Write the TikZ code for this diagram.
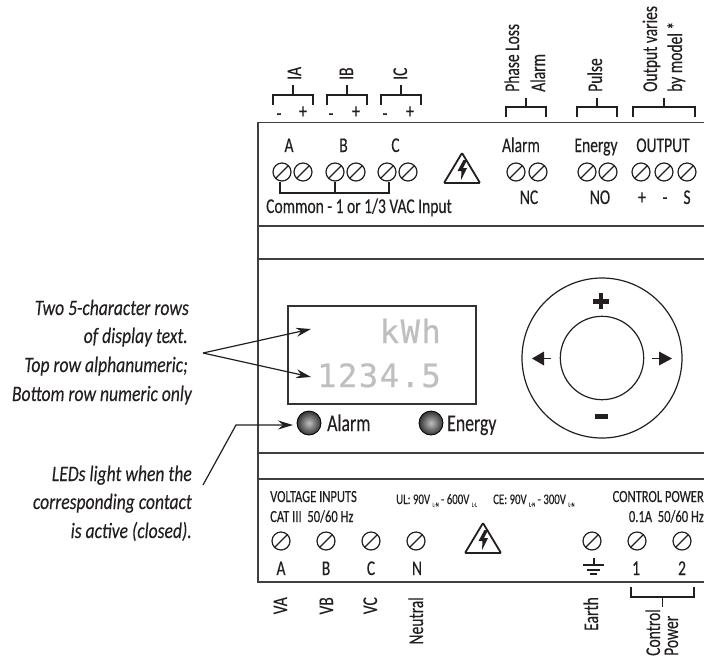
\documentclass[tikz,border=0pt]{standalone}
\usepackage{fontspec}
\usetikzlibrary{calc,arrows.meta}
\newfontfamily\condfont[FakeStretch=0.74,FakeBold=0.25]{Carlito}
\newfontfamily\notefont[FakeStretch=0.8,FakeBold=0.2]{Carlito}
\newfontfamily\lcdfont[LetterSpace=5,FakeBold=0.6]{DejaVu Sans Mono}
\definecolor{inkdark}{HTML}{231F20}
\def\sublabel#1{\,{\fontsize{6}{6}\selectfont\raisebox{-2.5pt}{#1}}\,}
\def\screw(#1,#2){\draw[termline] (#1,#2) circle (9); \draw[termline] ($(#1,#2)+(-6.4,6.4)$) -- ($(#1,#2)+(6.4,-6.4)$);}
\def\bracket(#1,#2,#3,#4,#5){\draw[termline] (#1,#4) -- (#1,#3) -- (#2,#3) -- (#2,#4); \draw[termline] ({(#1+#2)/2},#3) -- ({(#1+#2)/2},#5);}
\def\hazard(#1,#2){\begin{scope}[shift={(#1,#2)}]
	\draw[line width=1.8pt, rounded corners=1pt, color=inkdark] (0,0) -- (-18,30) -- (18,30) -- cycle;
	\fill[inkdark] (1.5,7) -- (-4.5,18) -- (-0.5,18) -- (-1,27) -- (5,15) -- (1,15) -- (5,7) -- cycle;
\end{scope}}
\def\led(#1,#2){\draw[line width=0.8pt, color=black, inner color=black!25, outer color=black!80] (#1,#2) circle (12);}
\tikzset{
	termline/.style={line width=1.2pt, color=inkdark},
	caseline/.style={line width=1.6pt, color=black!75},
	lbl/.style={inner sep=0pt, anchor=base, color=inkdark, font=\condfont\fontsize{21}{21}\selectfont},
	smalllbl/.style={lbl, font=\condfont\fontsize{17}{17}\selectfont},
	ratinglbl/.style={lbl, anchor=base west, font=\condfont\fontsize{14.6}{14.6}\selectfont},
	uplbl/.style={lbl, rotate=90, anchor=base west},
	downlbl/.style={lbl, rotate=90, anchor=base east},
	notelbl/.style={lbl, anchor=base east, font=\notefont\itshape\fontsize{22}{22}\selectfont},
	ledlbl/.style={lbl, anchor=base west, font=\condfont\fontsize{24}{24}\selectfont},
	lcdlbl/.style={inner sep=0pt, anchor=base east, color=black!25, font=\lcdfont\fontsize{32}{32}\selectfont},
	calloutline/.style={line width=1.2pt, color=inkdark, -{Stealth[length=15pt,width=9pt,inset=5pt]}}
}
\begin{document}
\begin{tikzpicture}[x=1pt,y=-1pt]
	\useasboundingbox (0,0) rectangle (704,657);
	%%%%% CASE %%%%%
	\draw[caseline] (704,122.5) -- (258,122.5) -- (258,582) -- (704,582);
	\draw[caseline] (258,226) -- (704,226);
	\draw[caseline] (258,259) -- (704,259);
	\draw[caseline] (258,453) -- (704,453);
	\draw[caseline] (258,479) -- (704,479);

	%%%%% TOP TERMINALS %%%%%
	\bracket(273,313,95,105,85);
	\bracket(327,367,95,105,85);
	\bracket(381,421,95,105,85);
	\node[uplbl] (iA) at (301,80) {IA};
	\node[uplbl] (iB) at (353,80) {IB};
	\node[uplbl] (iC) at (407,80) {IC};
	\node[lbl] (iAminus) at (279,120) {-};
	\node[lbl] (iAplus) at (303,118) {+};
	\node[lbl] (iBminus) at (331,120) {-};
	\node[lbl] (iBplus) at (356,118) {+};
	\node[lbl] (iCminus) at (385,120) {-};
	\node[lbl] (iCplus) at (410,118) {+};

	\bracket(506,546,107,117,98);
	\bracket(577,617,107,117,98);
	\bracket(633,695,107,117,98);
	\node[uplbl] (phaseLoss) at (519,92) {Phase Loss};
	\node[uplbl] (phaseAlarm) at (545,92) {Alarm};
	\node[uplbl] (pulse) at (602,92) {Pulse};
	\node[uplbl] (outVaries) at (657,92) {Output varies};
	\node[uplbl] (byModel) at (682,92) {by model *};

	\node[lbl] (termA) at (289,152) {A};
	\node[lbl] (termB) at (343.5,152) {B};
	\node[lbl] (termC) at (395.5,152) {C};
	\node[lbl] (termAlarm) at (521,152) {Alarm};
	\node[lbl] (termEnergy) at (596,152) {Energy};
	\node[lbl] (termOutput) at (663,152) {OUTPUT};

	\screw(282,172); \screw(303,172);
	\screw(335,172); \screw(356,172);
	\screw(387,172); \screw(408,172);
	\screw(516,172); \screw(538,172);
	\screw(587,172); \screw(608,172);
	\screw(641,172); \screw(664,172); \screw(687,172);

	\draw[termline] (280,182) -- (280,193) -- (389,193) -- (389,182);
	\draw[termline] (335,182) -- (335,193);
	\node[lbl, anchor=base west] (common) at (266,213) {Common - 1 or 1/3 VAC Input};
	\hazard(462,153);

	\node[lbl] (termNC) at (529,204) {NC};
	\node[lbl] (termNO) at (600,204) {NO};
	\node[lbl] (outPlus) at (642,204) {+};
	\node[lbl] (outMinus) at (665,204) {-};
	\node[lbl] (outS) at (687,204) {S};

	%%%%% DISPLAY %%%%%
	\draw[line width=1.5pt, color=black!80] (288,306) rectangle (476,404);
	\node[lcdlbl] (lcdTop) at (441,343) {kWh};
	\node[lcdlbl] (lcdBottom) at (441,387) {1234.5};

	\led(309,423);
	\led(431,423);
	\node[ledlbl] (ledAlarm) at (327,431) {Alarm};
	\node[ledlbl] (ledEnergy) at (447,431) {Energy};

	%%%%% DIAL %%%%%
	\draw[termline] (602,358) circle (80);
	\draw[termline] (602,358) circle (41.7);
	\fill[inkdark] (593,299) rectangle (609,303.5);
	\fill[inkdark] (598.7,293) rectangle (603.3,309);
	\fill[inkdark] (594.5,414) rectangle (608,418.5);
	\fill[inkdark] (532,358.5) -- (544,351.5) -- (544,365.5) -- cycle;
	\draw[termline] (544,358.5) -- (551,358.5);
	\fill[inkdark] (672,358.5) -- (659,351.5) -- (659,365.5) -- cycle;
	\draw[termline] (652,358.5) -- (659,358.5);

	%%%%% NOTES %%%%%
	\node[notelbl] (noteOne) at (189,315) {Two 5-character rows};
	\node[notelbl] (noteTwo) at (188,343) {of display text.};
	\node[notelbl] (noteThree) at (188,372) {Top row alphanumeric;};
	\node[notelbl] (noteFour) at (192,401) {Bottom row numeric only};
	\coordinate (splitPoint) at (203,353);
	\coordinate (rowTop) at (311,329);
	\coordinate (rowBottom) at (311,377);
	\draw[calloutline] (splitPoint) -- (rowTop);
	\draw[calloutline] (splitPoint) -- (rowBottom);

	\node[notelbl] (ledNoteOne) at (192,481) {LEDs light when the};
	\node[notelbl] (ledNoteTwo) at (192,509) {corresponding contact};
	\node[notelbl] (ledNoteThree) at (192,538) {is active (closed).};
	\coordinate (ledFoot) at (203,485);
	\coordinate (ledBend) at (236,425);
	\coordinate (ledTip) at (293,425);
	\draw[calloutline] (ledFoot) -- (ledBend) -- (ledTip);

	%%%%% BOTTOM TERMINALS %%%%%
	\node[smalllbl, anchor=base west] (voltInputs) at (270,502) {VOLTAGE INPUTS};
	\node[smalllbl, anchor=base west] (catThree) at (270,522) {CAT III\ \ 50/60 Hz};
	\node[ratinglbl] (ratingUL) at (396,504) {UL: 90V\sublabel{L-N}- 600V\sublabel{L-L}};
	\node[ratinglbl] (ratingCE) at (493,504) {CE: 90V\sublabel{L-N}- 300V\sublabel{L-N}};
	\node[smalllbl, anchor=base east] (ctrlPower) at (704,502) {CONTROL POWER};
	\node[smalllbl, anchor=base east] (ctrlRating) at (704,522) {0.1A\ \ 50/60 Hz};

	\screw(281,541); \screw(326,541); \screw(371,541); \screw(416,541);
	\screw(592,541); \screw(637,541); \screw(682,541);
	\hazard(483,523);

	\node[lbl] (voltA) at (281,575) {A};
	\node[lbl] (voltB) at (326,575) {B};
	\node[lbl] (voltC) at (371,575) {C};
	\node[lbl] (voltN) at (417,575) {N};
	\node[lbl] (ctrlOne) at (636,575) {1};
	\node[lbl] (ctrlTwo) at (682,575) {2};

	\draw[termline] (594,558) -- (594,565);
	\draw[termline] (583,565) -- (604,565);
	\draw[termline] (587,570) -- (600,570);
	\draw[termline] (590,574) -- (597,574);

	\node[downlbl] (wireVA) at (287,597) {VA};
	\node[downlbl] (wireVB) at (333,597) {VB};
	\node[downlbl] (wireVC) at (377,597) {VC};
	\node[downlbl] (wireN) at (423,597) {Neutral};
	\node[downlbl] (wireEarth) at (598,597) {Earth};

	\bracket(631,694,597,587,607);
	\node[uplbl] (wireControl) at (660,656) {Control};
	\node[uplbl] (wirePower) at (678,656) {Power};
\end{tikzpicture}
\end{document}
